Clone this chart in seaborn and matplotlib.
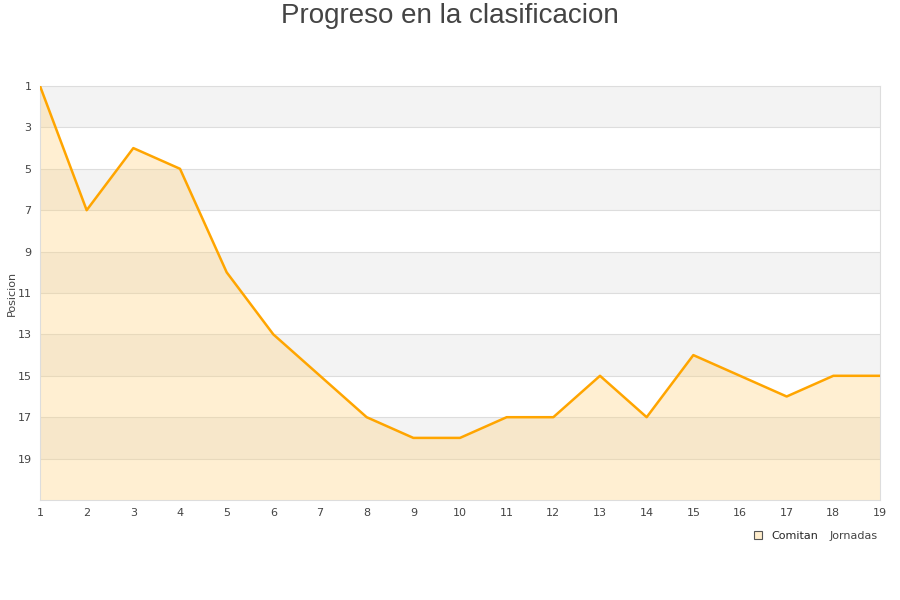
import pandas as pd
import seaborn as sns
import matplotlib
matplotlib.use("Agg")
import matplotlib.pyplot as plt

# Data
jornadas = list(range(1, 20))
posicion = [1, 7, 4, 5, 10, 13, 15, 17, 18, 18, 17, 17, 15, 17, 14, 15, 16, 15, 15]
equipo = "Comitan"

df = pd.DataFrame({"Jornada": jornadas, "Posicion": posicion})

sns.set_style("white")
plt.rcParams['font.family'] = ['DejaVu Sans']

fig = plt.figure(figsize=(9, 6), dpi=100)
ax = fig.add_axes([40 / 900, 1 - 500 / 600, 840 / 900, 414 / 600])

# alternating horizontal bands
for lo in range(1, 21, 4):
    ax.axhspan(lo, lo + 2, color="#f3f3f3", zorder=0, lw=0)
for y in range(3, 21, 2):
    ax.axhline(y, color="#dddddd", lw=0.8, zorder=1)

ax.fill_between(df["Jornada"], df["Posicion"], 21, color="#ffd27f", alpha=0.35,
                lw=0, zorder=2)
sns.lineplot(data=df, x="Jornada", y="Posicion", ax=ax, color="#ffa500", lw=1.8,
             zorder=3)

ax.set_xlim(1, 19)
ax.set_ylim(21, 1)
ax.set_xticks(jornadas)
ax.set_yticks(range(1, 21, 2))
ax.tick_params(axis="both", labelsize=8, colors="#444444", length=0, pad=6)
ax.set_ylabel("Posicion", fontsize=8, color="#444444")
ax.yaxis.set_label_coords(-0.028, 0.5)
ax.set_xlabel("")

for side in ["top", "right", "bottom", "left"]:
    ax.spines[side].set_color("#dddddd")

# x-axis title at the bottom right, legend just to its left
fig.text(878 / 900, 1 - 536 / 600, "Jornadas", fontsize=8, color="#444444",
         ha="right", va="center")

handle = plt.Rectangle((0, 0), 1, 1, facecolor="#ffedcc", edgecolor="#555555", lw=0.8)
leg = fig.legend([handle], [equipo], loc="center right",
                 bbox_to_anchor=(826 / 900, 1 - 536 / 600),
                 frameon=False, fontsize=8, handlelength=0.8, handleheight=0.8,
                 borderpad=0.2, handletextpad=0.8)

fig.text(0.5, 1 - 16 / 600, "Progreso en la clasificacion", fontsize=20,
         color="#444444", family="Liberation Sans", ha="center", va="center")

fig.savefig("out.png", dpi=100)
